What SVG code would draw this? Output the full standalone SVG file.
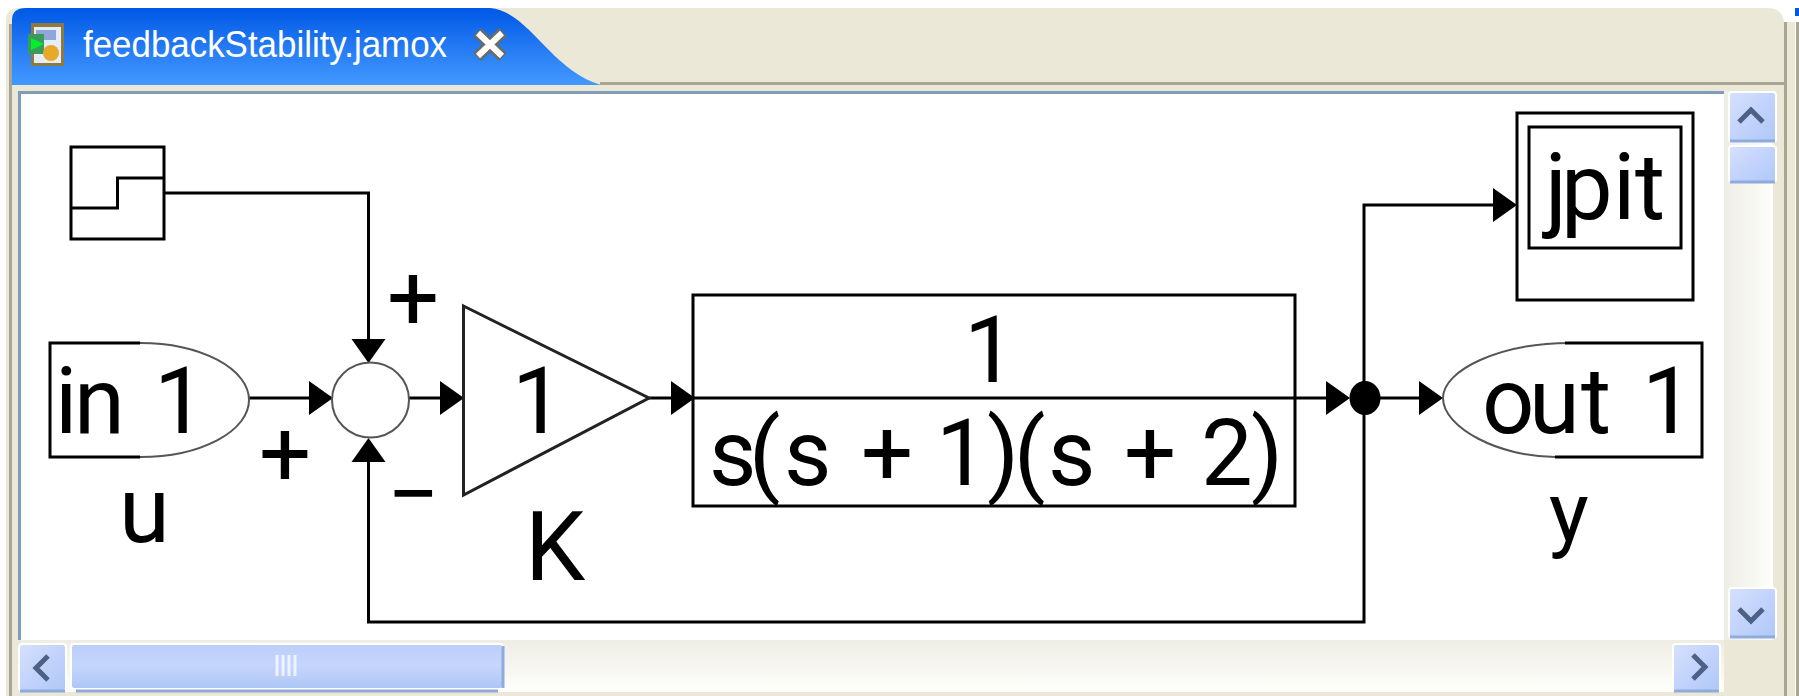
<svg xmlns="http://www.w3.org/2000/svg" width="1799" height="696" viewBox="0 0 1799 696">
<defs>
<linearGradient id="tab" x1="0" y1="0" x2="0" y2="1"><stop offset="0" stop-color="#0058e6"/><stop offset="0.6" stop-color="#2a80f5"/><stop offset="1" stop-color="#4199ff"/></linearGradient>
<linearGradient id="btn" x1="0" y1="0" x2="1" y2="1"><stop offset="0" stop-color="#d6e1fb"/><stop offset="0.5" stop-color="#c2d3fc"/><stop offset="1" stop-color="#aec8f7"/></linearGradient>
<linearGradient id="thumbH" x1="0" y1="0" x2="0" y2="1"><stop offset="0" stop-color="#bccffa"/><stop offset="0.5" stop-color="#c5d5fc"/><stop offset="1" stop-color="#acc6f6"/></linearGradient>
<linearGradient id="trackH" x1="0" y1="0" x2="0" y2="1"><stop offset="0" stop-color="#eeede5"/><stop offset="1" stop-color="#fefefb"/></linearGradient>
<linearGradient id="trackV" x1="0" y1="0" x2="1" y2="0"><stop offset="0" stop-color="#eeede5"/><stop offset="1" stop-color="#fefefb"/></linearGradient>
<path id="ah" d="M-24,-17 L0,0 L-24,17 Z" fill="#000"/>
</defs>
<style>
.ln{fill:none;stroke:#000;stroke-width:3}
.bx{fill:#fff;stroke:#000;stroke-width:3}
.gr{fill:#fff;stroke:#555;stroke-width:2}
.t{font-family:Roboto,"Liberation Sans",Arial,sans-serif;fill:#000;font-size:92px}
.ui{fill:none;stroke:#4d6185;stroke-width:5}
.b{fill:url(#btn);stroke:#fff;stroke-width:2}
.e{fill:none;stroke:#8faadc;stroke-width:3}
</style>
<rect width="1799" height="696" fill="#fff"/>
<g id="window-chrome">
<path d="M6,696 V20 Q6,8 20,8 H1767 Q1784,8 1784,24 V696 Z" fill="#ebe8d8"/>
<rect x="1784" y="22" width="11" height="674" fill="#ebe8d8"/>
<rect x="1784" y="22" width="3" height="674" fill="#a9a594"/>
<rect x="1796" y="22" width="3" height="674" fill="#a9a594"/>
<rect x="1795" y="8" width="4" height="8" fill="#0058e6"/>
<rect x="9" y="24" width="3" height="672" fill="#a9a594"/>
<rect x="600" y="82" width="1184" height="3" fill="#a9a594"/>
<path d="M12,85 V20 Q12,8 26,8 H490 C530,12 550,70 601,85 Z" fill="url(#tab)"/>
<g id="tab-icon">
<rect x="31" y="23" width="33" height="43" fill="#8f7a3c"/>
<rect x="34" y="27" width="27" height="36" fill="#e6ecf8"/>
<rect x="36" y="30" width="20" height="10" fill="#8fa6d8"/>
<rect x="28" y="34" width="16" height="20" fill="#3a9a5a"/>
<path d="M31,38 L44,44 L31,50 Z" fill="#00f030"/>
<circle cx="51" cy="53" r="8" fill="#e8a828"/>
</g>
<text x="83" y="57" font-family="'Liberation Sans',Arial,sans-serif" font-size="36" fill="#fff" textLength="364" lengthAdjust="spacingAndGlyphs">feedbackStability.jamox</text>
<path d="M477,32 L503,57 M503,32 L477,57" stroke="#6b6b63" stroke-width="11" fill="none"/>
<path d="M478,33 L502,56 M502,33 L478,56" stroke="#fff" stroke-width="6" fill="none"/>
<rect x="18" y="91" width="1706" height="3" fill="#7f9db9"/>
<rect x="18" y="91" width="3" height="549" fill="#7f9db9"/>
<rect x="21" y="94" width="1703" height="546" fill="#fff"/>
<rect x="1724" y="91" width="49" height="549" fill="url(#trackV)"/>
<rect x="21" y="640" width="1703" height="52" fill="url(#trackH)"/>
</g>
<g id="scrollbars">
<rect x="1729" y="92" width="47" height="50" rx="3" class="b"/>
<path class="e" d="M1730,141 H1775"/>
<path class="ui" d="M1739,122 L1751,110 L1763,122"/>
<rect x="1729" y="146" width="47" height="36" rx="3" class="b"/>
<path class="e" d="M1730,182 H1775"/>
<rect x="1729" y="588" width="47" height="50" rx="3" class="b"/>
<path class="e" d="M1730,637 H1775"/>
<path class="ui" d="M1739,609 L1751,621 L1763,609"/>
<rect x="19" y="644" width="47" height="47" rx="3" class="b"/>
<path class="e" d="M20,691 H65"/>
<path class="ui" d="M48,656 L36,668 L48,680"/>
<rect x="71" y="644" width="432" height="45" rx="3" fill="url(#thumbH)" stroke="#fff" stroke-width="2"/>
<path class="e" d="M76,691 H498 M503,646 V688"/>
<path d="M277,655 V676 M283,655 V676 M289,655 V676 M295,655 V676" stroke="#eef2fd" stroke-width="3" fill="none"/>
<rect x="1673" y="644" width="47" height="47" rx="3" class="b"/>
<path class="e" d="M1674,691 H1719"/>
<path class="ui" d="M1693,655 L1705,667 L1693,679"/>
</g>
<g id="connectors">
<path class="ln" d="M164,193 H368.5 V340"/>
<path class="ln" d="M249,398 H310"/>
<path class="ln" d="M409,398 H442"/>
<path class="ln" d="M649,398 H1330"/>
<path class="ln" d="M1380,398 H1420"/>
<path class="ln" d="M368.5,460 V622 H1364 V205 H1497"/>
<use href="#ah" transform="translate(1517,205)"/>
<use href="#ah" transform="translate(333,398)"/>
<use href="#ah" transform="translate(464,398)"/>
<use href="#ah" transform="translate(695,398)"/>
<use href="#ah" transform="translate(1350,398)"/>
<use href="#ah" transform="translate(1443,398)"/>
<use href="#ah" transform="translate(368.5,363) rotate(90)"/>
<use href="#ah" transform="translate(368.5,438) rotate(-90)"/>
<ellipse cx="1365" cy="398" rx="15.5" ry="17" fill="#000"/>
</g>
<g id="step-source">
<rect class="bx" x="71" y="147" width="93" height="92"/>
<path class="ln" d="M71,208 H117.5 V178 H164"/>
</g>
<g id="inport">
<path d="M140,343 A109,57 0 0 1 249,400 A109,57 0 0 1 140,457" class="gr"/>
<path class="ln" d="M140,343 H50 V457 H140"/>
<text class="t" x="55,74,0,154" y="433">in 1</text>
<text class="t" x="119" y="542">u</text>
</g>
<g id="sum">
<ellipse class="gr" cx="370.5" cy="400" rx="38.5" ry="37.5"/>
<text class="t" x="387" y="330">+</text>
<text class="t" x="259" y="486">+</text>
<text class="t" x="387" y="526">−</text>
</g>
<g id="gain">
<path d="M463.5,306 L649,398 L463.5,495 Z" fill="#fff" stroke="#222" stroke-width="3"/>
<text class="t" x="512" y="433">1</text>
<text class="t" x="525" y="580" style="font-size:96px">K</text>
</g>
<g id="transfer-function">
<rect x="693" y="295" width="602" height="211" fill="none" stroke="#000" stroke-width="3"/>
<text class="t" x="964" y="382">1</text>
<text class="t" x="709,749,784,0,861,0,936,987,1014,1048,0,1124,0,1201,1251" y="485">s(s + 1)(s + 2)</text>
</g>
<g id="outport">
<path class="gr" d="M1570,343 C1500,343 1443,370 1443,398 C1443,428 1500,457 1555,457"/>
<path class="ln" d="M1565,343 H1702 V457 H1555"/>
<text class="t" x="1482,1529,1581,0,1642" y="433">out 1</text>
<text class="t" x="1549" y="541" style="font-size:84px">y</text>
</g>
<g id="scope">
<rect class="bx" x="1517" y="113" width="176" height="187"/>
<rect class="bx" x="1529" y="127" width="152" height="121"/>
<text class="t" x="1545,1561,1613,1635" y="219">jpit</text>
</g>
</svg>
